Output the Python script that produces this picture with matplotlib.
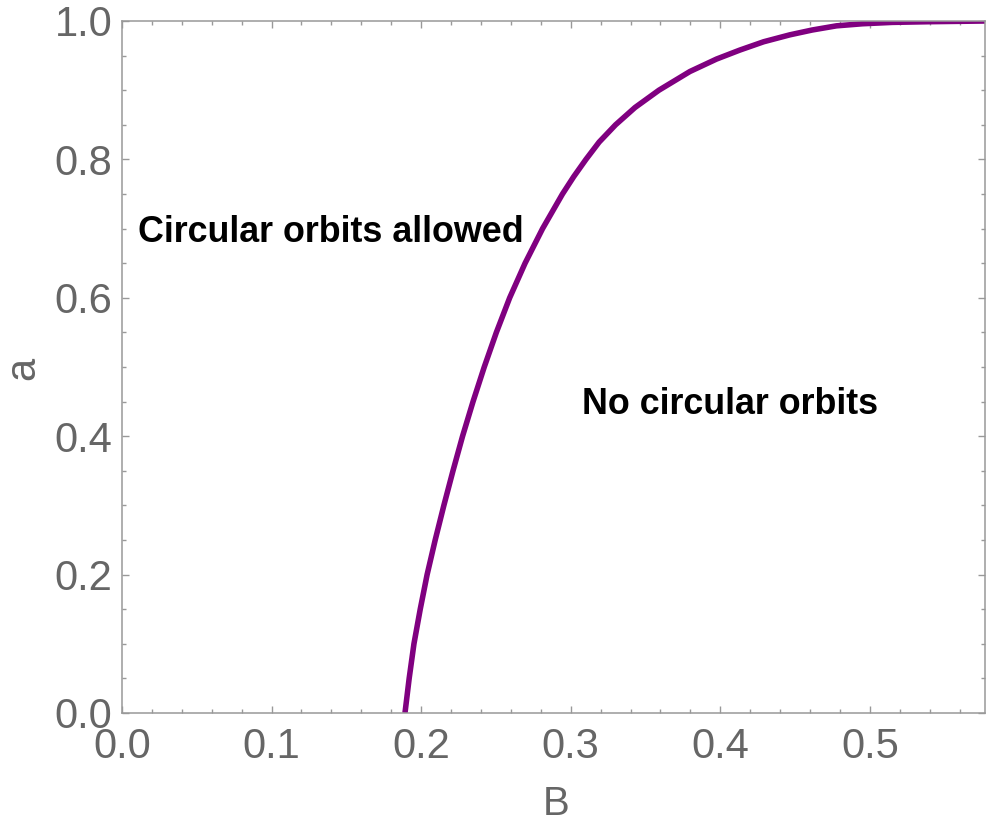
import matplotlib
matplotlib.use("Agg")
import matplotlib.pyplot as plt
from matplotlib.ticker import MultipleLocator

# Curve data (critical a vs B)
B_vals = [0.1892, 0.1920, 0.1952, 0.1994, 0.2040, 0.2094, 0.2152, 0.2213,
          0.2277, 0.2347, 0.2422, 0.2503, 0.2592, 0.2695, 0.2812, 0.2945,
          0.3020, 0.3102, 0.3190, 0.3300, 0.3430, 0.3590, 0.3797, 0.3975,
          0.4131, 0.4290, 0.4465, 0.4615, 0.4777, 0.4950, 0.5150, 0.5400,
          0.5770]
a_vals = [0.000, 0.050, 0.100, 0.150, 0.200, 0.250, 0.300, 0.350,
          0.400, 0.450, 0.500, 0.550, 0.600, 0.650, 0.700, 0.750,
          0.775, 0.800, 0.825, 0.850, 0.875, 0.900, 0.927, 0.945,
          0.958, 0.970, 0.980, 0.987, 0.993, 0.996, 0.998, 0.999,
          1.000]

x_ticks = [0.0, 0.1, 0.2, 0.3, 0.4, 0.5]
y_ticks = [0.0, 0.2, 0.4, 0.6, 0.8, 1.0]
label_left = "Circular orbits allowed"
label_right = "No circular orbits"

plt.rcParams['font.family'] = ['Liberation Sans', 'DejaVu Sans']

fig = plt.figure(figsize=(9.86, 8.25), dpi=100)
ax = fig.add_axes([122/986, 1 - 713/825, (985-122)/986, (713-21)/825])

ax.plot(B_vals, a_vals, color='#800080', lw=4.0, solid_capstyle='butt',
        solid_joinstyle='round', clip_on=True)

ax.set_xlim(0, 0.577)
ax.set_ylim(0, 1.0)

frame_color = '#999999'
for s in ax.spines.values():
    s.set_color(frame_color)
    s.set_linewidth(1.1)

ax.set_xticks(x_ticks)
ax.set_yticks(y_ticks)
ax.set_xticklabels([f"{t:.1f}" for t in x_ticks])
ax.set_yticklabels([f"{t:.1f}" for t in y_ticks])
ax.xaxis.set_minor_locator(MultipleLocator(0.02))
ax.yaxis.set_minor_locator(MultipleLocator(0.05))
ax.tick_params(which='both', direction='in', top=True, right=True,
               color=frame_color, width=1.0, labelcolor='#666666', labelsize=30)
ax.tick_params(which='major', length=5)
ax.tick_params(which='minor', length=3)
ax.tick_params(axis='x', which='major', pad=10)
ax.tick_params(axis='y', which='major', pad=7)

ax.set_xlabel("B", fontsize=29, color='#666666')
ax.set_ylabel("a", fontsize=30, color='#666666')
ax.xaxis.set_label_coords((556 - 122) / 863, (713 - 804) / 692)
ax.xaxis.label.set_verticalalignment('center')
ax.yaxis.set_label_coords((23 - 122) / 863, (713 - 368) / 692)
ax.yaxis.label.set_verticalalignment('center')

ax.text(0.0107, 0.681, label_left, fontsize=25.8, fontweight='bold', color='black',
        ha='left', va='baseline')
ax.text(0.3073, 0.432, label_right, fontsize=25.8, fontweight='bold', color='black',
        ha='left', va='baseline')

fig.savefig("out.png", dpi=100)
